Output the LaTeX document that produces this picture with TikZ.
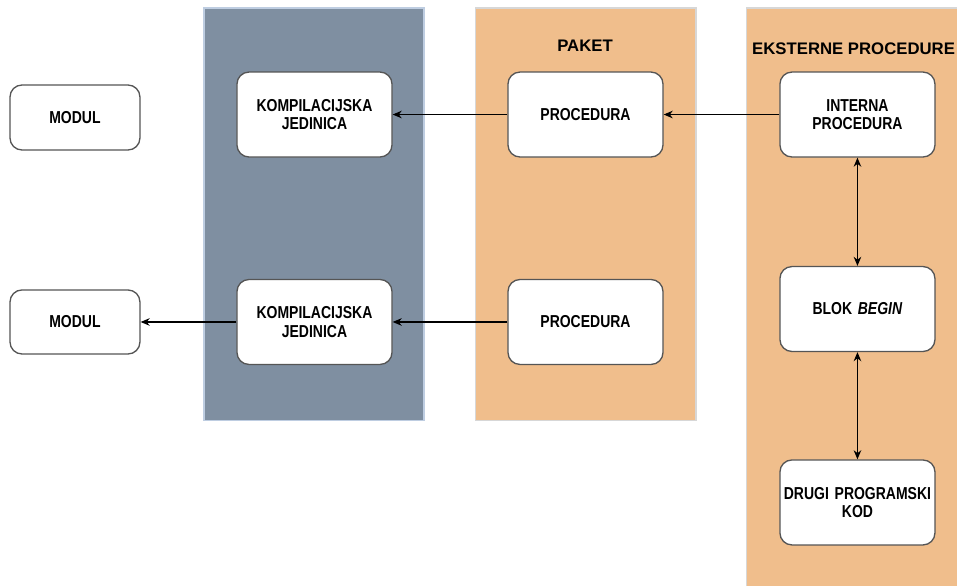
\documentclass[tikz,border=0pt]{standalone}
\usepackage{fontspec}
\setmainfont{Liberation Sans}
\newfontfamily\boxfont[FakeStretch=0.81]{Liberation Sans}
\usepackage[svgnames]{xcolor}
\usepackage{tikz}
\usetikzlibrary{arrows.meta}
\definecolor{slate}{RGB}{127,143,161}
\definecolor{slateline}{RGB}{190,205,225}
\definecolor{peach}{RGB}{240,190,140}
\definecolor{peachline}{RGB}{215,215,215}
\tikzset{>={Stealth[width=2mm,length=2.4mm]}}
\tikzset{
  box/.style={shape=rectangle,draw={rgb:red,30;green,30;blue,30},line width=1pt,fill=white,rounded corners=0.125in,minimum width=1.615in,minimum height=0.885in,inner xsep=1pt,text width=1.55in,align=center,font=\boxfont\bfseries\fontsize{13}{14}\selectfont},
  panel/.style={line width=0.8pt},
  paneltitle/.style={font=\bfseries\fontsize{12.6}{14}\selectfont}
}

\begin{document}
\begin{tikzpicture}
\useasboundingbox (0in,0in) rectangle (9.969in,-6.094in);

% panels
\fill[slate,draw=slateline,panel] (2.125in,-0.083in) rectangle (4.417in,-4.385in);
\fill[peach,draw=peachline,panel] (4.958in,-0.083in) rectangle (7.25in,-4.385in);
\fill[peach,draw=peachline,panel] (7.781in,-0.083in) rectangle (10.1in,-6.2in);

\path (6.094in,-0.479in) node (paket) [paneltitle]{PAKET};
\path (7.833in,-0.51in) node (eksterne) [paneltitle,anchor=west,inner sep=0pt]{EKSTERNE PROCEDURE};

% boxes
\path (0.781in,-1.224in) node (modul1) [box,minimum width=1.354in,minimum height=0.677in,text width=1.3in]{MODUL};
\path (0.781in,-3.354in) node (modul2) [box,minimum width=1.354in,minimum height=0.667in,text width=1.3in]{MODUL};

\path (3.276in,-1.193in) node (komp1) [box]{KOMPILACIJSKA\\JEDINICA};
\path (3.276in,-3.354in) node (komp2) [box]{KOMPILACIJSKA\\JEDINICA};

\path (6.099in,-1.193in) node (proc1) [box]{PROCEDURA};
\path (6.099in,-3.354in) node (proc2) [box]{PROCEDURA};

\path (8.932in,-1.193in) node (interna) [box]{INTERNA\\PROCEDURA};
\path (8.932in,-3.219in) node (blok) [box]{BLOK \textit{BEGIN}};
\path (8.932in,-5.234in) node (drugi) [box]{DRUGI PROGRAMSKI\\KOD};

% connectors
\draw[->,line width=0.8pt] (interna) -- (proc1);
\draw[->,line width=0.8pt] (proc1) -- (komp1);
\draw[->,line width=0.8pt] (proc2) -- (komp2);
\draw[->,line width=0.8pt] (komp2) -- (modul2);
\draw[<->,line width=0.8pt] (interna) -- (blok);
\draw[<->,line width=0.8pt] (blok) -- (drugi);

\end{tikzpicture}
\end{document}
